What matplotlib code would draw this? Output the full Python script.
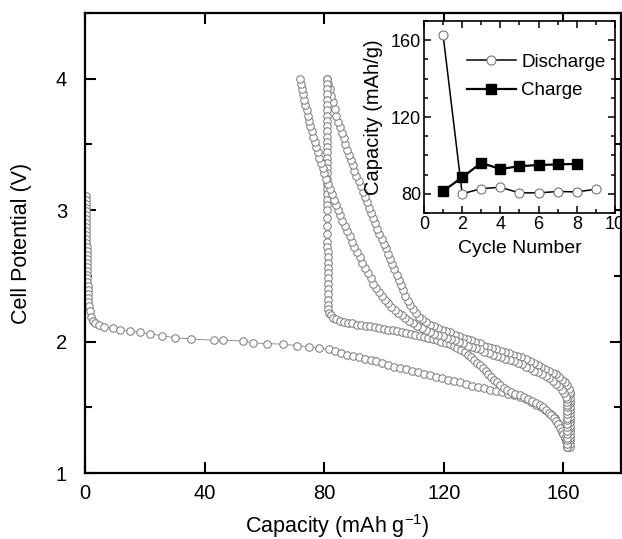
import numpy as np
import matplotlib.pyplot as plt
from matplotlib.ticker import MultipleLocator

plt.rcParams['font.family'] = ['Liberation Sans', 'DejaVu Sans']

# ---------------- main plot data (capacity mAh/g, potential V) ----------------
# first discharge
dis1_cap = [0.2, 0.2, 0.2, 0.2, 0.2, 0.3, 0.3, 0.3, 0.3, 0.3, 0.4, 0.4, 0.4, 0.5, 0.5,
            0.5, 0.6, 0.6, 0.6, 0.7, 0.7, 0.8, 0.8, 0.9, 0.9, 1.0, 1.0, 1.1, 1.2,
            1.5, 2.0, 2.7, 3.4, 4.6, 6.3, 9.4, 11.8, 15.1, 18.3, 21.7, 25.6, 30.0, 35.3,
            43.2, 46.2, 52.7, 56.2, 60.9, 66.3, 70.8, 75.0, 78.3,
            81.5, 83.5, 85.5, 87.5, 89.5, 91.5, 93.5, 95.5, 97.5, 99.5, 101.5, 103.5,
            105.5, 107.5, 109.5, 111.5, 113.5, 115.5, 117.5, 119.5, 121.5, 123.5, 125.5,
            127.5, 129.5, 131.5, 133.5, 135.5, 137.5, 139.5, 141.5, 143.5, 145.5, 147.5,
            149.3, 151.0, 152.5, 153.9, 155.1, 156.2, 157.1, 157.9, 158.6, 159.2, 159.7,
            160.2, 160.6, 160.9, 161.1, 161.2]
dis1_v = [3.11, 3.08, 3.05, 3.02, 2.99, 2.96, 2.93, 2.90, 2.87, 2.84, 2.81, 2.78, 2.75,
          2.72, 2.69, 2.66, 2.63, 2.60, 2.57, 2.54, 2.51, 2.48, 2.45, 2.42, 2.39, 2.36,
          2.33, 2.30, 2.27,
          2.23, 2.19, 2.16, 2.14, 2.125, 2.11, 2.10, 2.085, 2.08, 2.07, 2.06, 2.045, 2.03,
          2.02, 2.01, 2.01, 2.005, 1.99, 1.985, 1.98, 1.97, 1.96, 1.95,
          1.94, 1.925, 1.915, 1.90, 1.89, 1.88, 1.87, 1.86, 1.85, 1.835, 1.825, 1.81,
          1.80, 1.79, 1.78, 1.77, 1.755, 1.745, 1.73, 1.72, 1.71, 1.70, 1.69,
          1.68, 1.665, 1.655, 1.645, 1.635, 1.625, 1.615, 1.60, 1.59, 1.575, 1.56,
          1.54, 1.52, 1.50, 1.48, 1.46, 1.44, 1.415, 1.39, 1.365, 1.34, 1.315,
          1.29, 1.265, 1.24, 1.215, 1.20]

# first charge (upper band)
chg1_cap = [162.2, 162.2, 162.2, 162.3, 162.3, 162.3, 162.3, 162.3, 162.3, 162.3, 162.3,
            162.3, 162.3, 162.3, 162.3, 162.3, 162.3, 162.2, 162.2,
            162.0, 161.3, 160.4, 159.5, 158.5, 157.5, 156.5, 155.3, 154.0, 152.7, 151.4,
            150.1, 148.8, 147.4, 146.0, 144.6, 143.2, 141.8, 140.4, 139.0, 137.6, 136.2,
            134.8, 133.4, 132.0, 130.6, 129.2, 127.8, 126.4, 125.0, 123.6, 122.2, 120.8,
            119.4, 118.0, 116.6, 115.3, 114.0, 112.8, 111.7, 110.6, 109.6, 108.7, 107.9,
            107.1, 106.3, 105.6, 104.9, 104.2, 103.5, 102.8, 102.0, 101.3, 100.6, 99.9,
            99.2, 98.5, 97.8, 97.1, 96.4, 95.7, 95.0, 94.3, 93.6, 92.9, 92.2, 91.5, 90.8,
            90.1, 89.5, 88.9, 88.3, 87.7, 87.1, 86.5, 85.9, 85.3, 84.7, 84.1, 83.5, 82.9,
            82.3, 81.8, 81.3, 81.0]
chg1_v = [1.20, 1.22, 1.25, 1.27, 1.29, 1.32, 1.34, 1.36, 1.39, 1.41, 1.43, 1.46, 1.48,
          1.50, 1.53, 1.55, 1.57, 1.60, 1.62,
          1.64, 1.67, 1.69, 1.71, 1.73, 1.75, 1.76, 1.78, 1.79, 1.81, 1.82,
          1.84, 1.85, 1.87, 1.88, 1.89, 1.90, 1.91, 1.92, 1.93, 1.94, 1.95,
          1.96, 1.97, 1.99, 2.00, 2.01, 2.02, 2.03, 2.04, 2.05, 2.07, 2.08,
          2.09, 2.10, 2.12, 2.13, 2.15, 2.17, 2.19, 2.22, 2.25, 2.28, 2.31,
          2.35, 2.39, 2.43, 2.47, 2.51, 2.55, 2.59, 2.63, 2.67, 2.71, 2.74,
          2.78, 2.82, 2.86, 2.90, 2.94, 2.98, 3.02, 3.06, 3.10, 3.14, 3.18, 3.22, 3.26,
          3.30, 3.34, 3.38, 3.42, 3.46, 3.50, 3.55, 3.59, 3.63, 3.67, 3.72, 3.77, 3.82,
          3.87, 3.92, 3.96, 4.00]

# second discharge
dis2_cap = [81.0, 81.0, 81.0, 81.0, 81.0, 81.0, 81.0, 81.0, 81.0, 81.0, 81.0, 81.0, 81.0,
            81.0, 81.0, 81.0, 81.0, 81.0, 81.0, 81.0, 81.1, 81.1, 81.1, 81.1, 81.1, 81.1,
            81.1, 81.1, 81.1, 81.1, 81.1, 81.2, 81.2, 81.2, 81.2, 81.2, 81.2, 81.2, 81.2,
            81.3, 81.3, 81.3, 81.4,
            81.6, 82.2, 83.0, 84.0, 85.2, 86.5, 87.9, 89.4, 90.9, 92.4, 93.9, 95.4, 96.9,
            98.4, 99.9, 101.4, 102.9, 104.4, 105.9, 107.4, 108.9, 110.4, 111.9, 113.4,
            114.9, 116.4, 117.8, 119.2, 120.6, 122.0, 123.3, 124.6, 125.8, 127.0, 128.1,
            129.2, 130.2, 131.2, 132.2, 133.1, 134.0, 134.9, 135.8, 136.7, 137.7, 138.8,
            140.0, 141.3, 142.6, 144.0, 145.4, 146.8, 148.2, 149.6, 150.9, 152.1, 153.2,
            154.2, 155.1, 156.0, 156.8, 157.5, 158.2, 158.8, 159.4, 159.9, 160.4, 160.8,
            161.1, 161.3]
dis2_v = [4.00, 3.96, 3.92, 3.88, 3.84, 3.80, 3.76, 3.72, 3.68, 3.64, 3.60, 3.56, 3.52,
          3.48, 3.44, 3.40, 3.36, 3.32, 3.28, 3.24, 3.20, 3.16, 3.12, 3.08, 3.04, 3.00,
          2.94, 2.88, 2.82, 2.76, 2.72, 2.68, 2.64, 2.60, 2.56, 2.52, 2.48, 2.44, 2.40,
          2.36, 2.32, 2.28, 2.25,
          2.22, 2.20, 2.18, 2.17, 2.16, 2.15, 2.145, 2.14, 2.13, 2.125, 2.12, 2.115, 2.11,
          2.10, 2.095, 2.09, 2.085, 2.08, 2.07, 2.065, 2.06, 2.05, 2.045, 2.035,
          2.03, 2.02, 2.01, 2.00, 1.99, 1.98, 1.965, 1.95, 1.935, 1.92, 1.90,
          1.88, 1.86, 1.84, 1.82, 1.80, 1.775, 1.75, 1.73, 1.71, 1.69, 1.67,
          1.65, 1.635, 1.62, 1.605, 1.59, 1.58, 1.565, 1.55, 1.535, 1.52, 1.50,
          1.48, 1.46, 1.44, 1.42, 1.395, 1.37, 1.345, 1.32, 1.295, 1.27, 1.245,
          1.22, 1.20]

# second charge (lower band)
chg2_cap = [161.2, 161.2, 161.3, 161.3, 161.3, 161.3, 161.3, 161.3, 161.3, 161.3, 161.3,
            161.3, 161.3, 161.3, 161.2, 161.2,
            161.0, 160.3, 159.5, 158.6, 157.6, 156.5, 155.3, 154.1, 152.9, 151.6, 150.3,
            149.0, 147.6, 146.2, 144.8, 143.4, 142.0, 140.6, 139.2, 137.8, 136.4, 135.0,
            133.6, 132.2, 130.8, 129.4, 128.0, 126.6, 125.2, 123.8, 122.4, 121.0, 119.6,
            118.2, 116.8, 115.4, 114.0, 112.6, 111.2, 109.8, 108.5, 107.2, 106.0, 104.8,
            103.6, 102.4, 101.3, 100.3, 99.3, 98.3, 97.3, 96.4, 95.5, 94.6, 93.7, 92.8,
            91.9, 91.0, 90.1, 89.3, 88.5, 87.7, 86.9, 86.1, 85.3, 84.6, 83.9, 83.2, 82.5,
            81.9, 81.3, 80.7, 80.1, 79.5, 78.9, 78.4, 77.9, 77.4, 76.9, 76.4, 75.9, 75.4,
            74.9, 74.5, 74.1, 73.7, 73.3, 72.9, 72.6, 72.3, 72.0]
chg2_v = [1.20, 1.22, 1.25, 1.27, 1.30, 1.32, 1.35, 1.37, 1.40, 1.42, 1.45, 1.47, 1.50,
          1.52, 1.54, 1.56,
          1.58, 1.61, 1.63, 1.66, 1.68, 1.70, 1.72, 1.74, 1.75, 1.77, 1.78,
          1.80, 1.81, 1.83, 1.84, 1.85, 1.86, 1.87, 1.88, 1.89, 1.90, 1.91,
          1.92, 1.94, 1.95, 1.96, 1.97, 1.99, 2.00, 2.01, 2.02, 2.03, 2.04,
          2.05, 2.06, 2.07, 2.09, 2.10, 2.12, 2.14, 2.16, 2.18, 2.20, 2.22,
          2.24, 2.26, 2.29, 2.32, 2.35, 2.38, 2.41, 2.44, 2.48, 2.52, 2.56, 2.60,
          2.64, 2.68, 2.72, 2.76, 2.80, 2.84, 2.88, 2.92, 2.96, 3.00, 3.04, 3.08, 3.12,
          3.16, 3.20, 3.24, 3.28, 3.32, 3.36, 3.40, 3.44, 3.48, 3.52, 3.56, 3.60, 3.64,
          3.68, 3.72, 3.76, 3.80, 3.84, 3.88, 3.92, 3.96, 4.00]

# ---------------- inset data ----------------
cyc_dis = [1, 2, 3, 4, 5, 6, 7, 8, 9]
cap_dis = [162.6, 80.0, 82.7, 83.4, 80.5, 80.5, 81.2, 81.0, 82.4]
cyc_chg = [1, 2, 3, 4, 5, 6, 7, 8]
cap_chg = [81.4, 88.6, 96.1, 92.9, 94.4, 95.0, 95.3, 95.6]

fig = plt.figure(figsize=(6.22, 5.39), dpi=100)
ax = fig.add_axes([0.1367, 0.1224, 0.8617, 0.8535])

for cx, vy in [(dis1_cap, dis1_v), (chg1_cap, chg1_v), (dis2_cap, dis2_v), (chg2_cap, chg2_v)]:
    ax.plot(cx, vy, color='#808080', lw=0.6, marker='o', ms=5.4, mfc='white',
            mec='#858585', mew=0.8)

ax.set_xlim(0, 179.3)
ax.set_ylim(1, 4.5)
ax.set_xticks([0, 40, 80, 120, 160])
ax.set_yticks([1, 2, 3, 4])
ax.yaxis.set_minor_locator(MultipleLocator(0.5))
ax.tick_params(which='both', direction='in', top=True, right=True, width=1.5)
ax.tick_params(which='major', length=8, labelsize=14.5)
ax.tick_params(axis='x', which='major', pad=8)
ax.tick_params(axis='y', which='major', pad=13)
ax.tick_params(which='minor', length=5)
for s in ax.spines.values():
    s.set_linewidth(1.6)
ax.set_xlabel('Capacity (mAh g$^{\\mathregular{-1}}$)', fontsize=15.5)
ax.set_ylabel('Cell Potential (V)', fontsize=15.5)
ax.xaxis.set_label_coords(0.47, -0.085)
ax.yaxis.set_label_coords(-0.099, 0.5)

# ---------------- inset ----------------
ins = fig.add_axes([0.6817, 0.6048, 0.307, 0.3562])
ins.plot(cyc_dis, cap_dis, color='black', lw=1.1, marker='o', ms=6.5, mfc='white',
         mec='#777777', mew=0.8, label='Discharge')
ins.plot(cyc_chg, cap_chg, color='black', lw=1.6, marker='s', ms=6.5, mfc='black',
         mec='black', label='Charge')
ins.set_xlim(0, 10)
ins.set_ylim(70, 170)
ins.set_xticks([0, 2, 4, 6, 8, 10])
ins.set_yticks([80, 120, 160])
ins.xaxis.set_minor_locator(MultipleLocator(1))
ins.yaxis.set_minor_locator(MultipleLocator(10))
ins.tick_params(which='both', direction='in', top=True, right=True, width=1.1)
ins.tick_params(which='major', length=5, labelsize=13, pad=2)
ins.tick_params(which='minor', length=3)
for s in ins.spines.values():
    s.set_linewidth(1.2)
ins.set_xlabel('Cycle Number', fontsize=14)
ins.set_ylabel('Capacity (mAh/g)', fontsize=14.5)
ins.xaxis.set_label_coords(0.5, -0.14)
ins.yaxis.set_label_coords(-0.215, 0.5)
ins.legend(loc='upper left', bbox_to_anchor=(0.225, 0.83), frameon=False, fontsize=13.5,
           handlelength=2.6, handletextpad=0.3, labelspacing=0.6, borderpad=0,
           borderaxespad=0)

fig.savefig('out.png', dpi=100)
